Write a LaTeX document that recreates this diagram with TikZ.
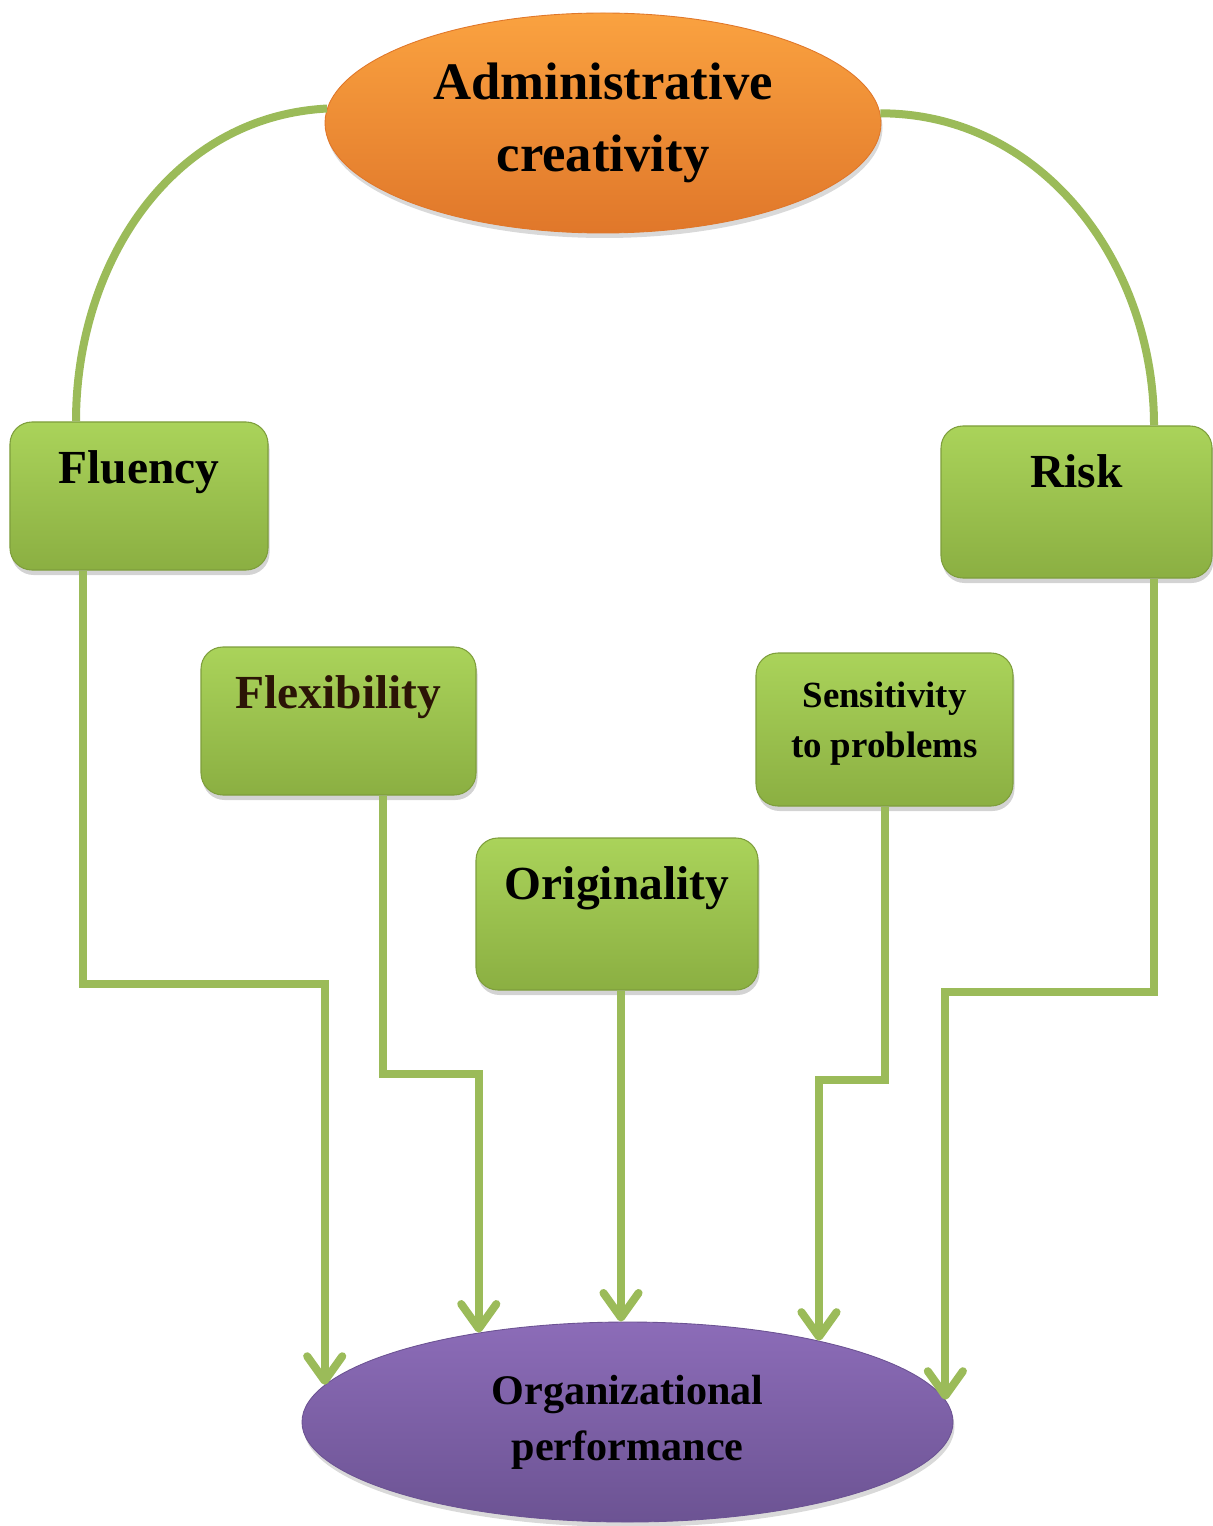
\documentclass[tikz,border=0pt]{standalone}
\usepackage{fontspec}
\setmainfont{Liberation Serif}
\usetikzlibrary{arrows.meta,shapes.geometric,shadows}
\definecolor{link}{HTML}{9BBB59}
\definecolor{boxtop}{HTML}{AAD35A}
\definecolor{boxbot}{HTML}{8BAF42}
\definecolor{boxrule}{HTML}{7E9E3C}
\definecolor{oratop}{HTML}{FAA240}
\definecolor{orabot}{HTML}{E0772A}
\definecolor{purtop}{HTML}{8C6CB8}
\definecolor{purbot}{HTML}{6C5393}
\definecolor{brownish}{HTML}{2B1406}

\begin{document}
\begin{tikzpicture}[
  oval/.style={ellipse,inner sep=0pt,align=center,draw=#1,line width=0.5pt,drop shadow={shadow xshift=0.03cm,shadow yshift=-0.1cm,opacity=0.3}},
  box/.style={rectangle,rounded corners=0.44cm,draw=boxrule,line width=0.6pt,top color=boxtop,bottom color=boxbot,drop shadow={shadow xshift=0.03cm,shadow yshift=-0.1cm,opacity=0.35}},
  lbl/.style={anchor=north,yshift=-0.58cm,inner sep=0pt,align=center,font=\fontsize{27}{36}\selectfont\bfseries},
  conn/.style={draw=link,line width=0.16cm,-{Straight Barb[length=14pt,width=20pt,line width=0.16cm,round]}},
  curveline/.style={draw=link,line width=0.16cm}
]
\useasboundingbox (0,0) rectangle (24.26,-30.52);
\node[oval=orabot,top color=oratop,bottom color=orabot,minimum width=11.12cm,minimum height=4.4cm,font=\fontsize{30}{41}\selectfont\bfseries] (adm) at (12.06,-2.46) {Administrative\\creativity};
\node[oval=purbot,top color=purtop,bottom color=purbot,minimum width=13.02cm,minimum height=4.0cm,font=\fontsize{24}{32}\selectfont\bfseries] (perf) at (12.55,-28.44) {Organizational\\performance};
\node[box,minimum width=5.16cm,minimum height=2.96cm,label={[lbl]north:Fluency}] (flu) at (2.78,-9.92) {};
\node[box,minimum width=5.42cm,minimum height=3.04cm,label={[lbl]north:Risk}] (risk) at (21.53,-10.04) {};
\node[box,minimum width=5.5cm,minimum height=2.96cm,label={[lbl,text=brownish]north:Flexibility}] (flex) at (6.77,-14.42) {};
\node[box,minimum width=5.14cm,minimum height=3.06cm,label={[lbl,font=\fontsize{21}{28.5}\selectfont\bfseries]north:Sensitivity\\to problems}] (sens) at (17.69,-14.59) {};
\node[box,minimum width=5.64cm,minimum height=3.04cm,label={[lbl]north:Originality}] (orig) at (12.34,-18.28) {};
\draw[curveline] (adm.177.5) to[out=183,in=90] ([xshift=-1.26cm]flu.north);
\draw[curveline] (adm.2) to[out=0,in=90] ([xshift=1.55cm]risk.north);
\draw[conn] ([xshift=-1.12cm]flu.south) -- ++(0,-8.26) -| (perf.173.5);
\draw[conn] ([xshift=0.89cm]flex.south) -- ++(0,-5.56) -| (perf.149.8);
\draw[conn] ([xshift=0.08cm]orig.south) coordinate (o) -- (o |- perf.north);
\draw[conn] (sens.south) -- ++(0,-5.46) -| (perf.23.5);
\draw[conn] ([xshift=1.55cm]risk.south) -- ++(0,-8.26) -| (perf.4.2);
\end{tikzpicture}
\end{document}
